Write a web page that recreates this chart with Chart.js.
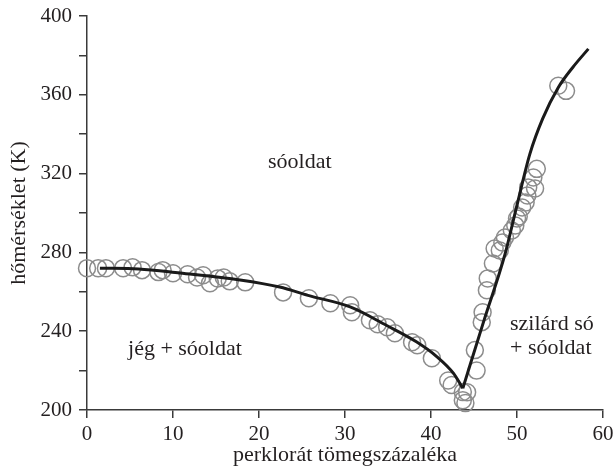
<!DOCTYPE html>
<html>
<head>
<meta charset="utf-8">
<script src="https://cdn.jsdelivr.net/npm/chart.js@4.4.1/dist/chart.umd.min.js"></script>
<style>
  html, body { margin: 0; padding: 0; background: #fff; }
  #chart { display: block; }
</style>
</head>
<body>
<canvas id="chart" width="615" height="469"></canvas>
<script>
// measured points (perchlorate wt% / temperature K)
const obsPct = [0, 1.3, 2.2, 4.2, 5.3, 6.4, 8.3, 8.8, 10.0, 11.7, 12.8, 13.5, 14.3, 15.2, 15.9, 16.6, 18.4,
  22.8, 25.8, 28.3, 30.6, 30.8, 32.9, 33.8, 34.9, 35.8, 37.8, 38.4, 40.1, 42.0, 42.4, 43.7, 43.7, 44.0, 44.2,
  45.3, 45.1, 45.9, 46.0, 46.5, 46.6, 47.2, 47.4, 48.0, 48.3, 48.6, 49.4, 49.8, 50.0, 50.2, 50.6, 51.0, 51.2,
  51.3, 52.1, 51.9, 52.3, 54.8, 55.7];
const obsTemp = [272, 272, 272, 272, 272.4, 271, 270, 271, 269.4, 268.9, 267.3, 268.4, 264.3, 266.8, 267.3, 265.3, 264.8,
  259.7, 256.7, 254.2, 253.2, 249.6, 245.6, 243.5, 242, 239, 234.4, 232.9, 226.3, 215, 212.7, 209.1, 205, 203.5, 209,
  220, 230.4, 244.6, 249.6, 260.8, 266.8, 274.4, 282, 281, 285, 287.6, 291.1, 293.7, 297.2, 298.2, 302.8, 305.3, 308.9,
  313, 312.4, 318, 322.4, 364.6, 362];

// fitted curves: ice branch and salt branch
const leftPct = [1.5, 6, 10.8, 17.8, 22.4, 25.7, 30.6, 34.8, 38.3, 40.7, 42.6, 43.7];
const leftTemp = [272, 271.6, 269.5, 266, 262.4, 258.2, 252.3, 243, 234.6, 227, 218.7, 211];
const rightPct = [43.7, 46.2, 48.6, 50.0, 51.5, 53.0, 54.8, 56.5, 58.3];
const rightTemp = [211, 246, 279, 304, 330, 348, 363.7, 374, 383.3];

const xTicks = [0, 10, 20, 30, 40, 50, 60];
const yTickLabels = [200, 240, 280, 320, 360, 400];

const regionText = ['sóoldat', 'jég + sóoldat', 'szilárd só', '+ sóoldat'];
const regionPct = [21.05, 4.77, 49.19, 49.19];
const regionTemp = [323, 227.8, 240.5, 228.4];

const FONT = "'Liberation Serif', 'Times New Roman', serif";
const INK = '#231f20';
const AXIS = '#3a3a3a';

function toXY(xs, ys) {
  return xs.map((x, i) => ({ x: x, y: ys[i] }));
}

// keep tick labels from pushing the plot area inwards
function noLabelPadding(s) {
  s.paddingTop = 0;
  s.paddingBottom = 0;
  s.paddingLeft = 0;
  s.paddingRight = 0;
}

const regionLabels = {
  id: 'regionLabels',
  afterDatasetsDraw(chart) {
    const ctx = chart.ctx;
    const sx = chart.scales.x, sy = chart.scales.y;
    ctx.save();
    ctx.font = '22px ' + FONT;
    ctx.fillStyle = INK;
    ctx.textAlign = 'left';
    ctx.textBaseline = 'alphabetic';
    regionText.forEach((t, i) => {
      ctx.fillText(t, sx.getPixelForValue(regionPct[i]), sy.getPixelForValue(regionTemp[i]));
    });
    ctx.restore();
  }
};

new Chart(document.getElementById('chart'), {
  type: 'scatter',
  data: {
    datasets: [
      {
        data: toXY(leftPct, leftTemp),
        showLine: true,
        borderColor: '#1a1a1a',
        borderWidth: 3,
        pointRadius: 0,
        cubicInterpolationMode: 'monotone',
        order: 0
      },
      {
        data: toXY(rightPct, rightTemp),
        showLine: true,
        borderColor: '#1a1a1a',
        borderWidth: 3,
        pointRadius: 0,
        cubicInterpolationMode: 'monotone',
        order: 0
      },
      {
        data: toXY(obsPct, obsTemp),
        showLine: false,
        clip: false,
        pointRadius: 8.5,
        pointBorderWidth: 1.5,
        pointBorderColor: '#8c8c8c',
        pointBackgroundColor: 'rgba(0,0,0,0)',
        order: 1
      }
    ]
  },
  options: {
    responsive: false,
    animation: false,
    devicePixelRatio: 1,
    layout: { padding: { left: 0, right: 12, top: 16, bottom: 0 } },
    plugins: {
      legend: { display: false },
      tooltip: { enabled: false }
    },
    scales: {
      x: {
        type: 'linear',
        min: 0,
        max: 60,
        afterFit: (s) => { s.height = 59; noLabelPadding(s); },
        afterBuildTicks: (s) => { s.ticks = xTicks.map(v => ({ value: v })); },
        border: { display: true, color: AXIS, width: 1.5 },
        grid: { drawOnChartArea: false, drawTicks: true, tickLength: 8, color: AXIS, lineWidth: 1.5 },
        ticks: { color: INK, padding: 4, font: { family: FONT, size: 21 } },
        title: {
          display: true,
          text: 'perklorát tömegszázaléka',
          color: INK,
          padding: { top: 0, bottom: 1 },
          font: { family: FONT, size: 22 }
        }
      },
      y: {
        type: 'linear',
        min: 200,
        max: 400,
        afterFit: (s) => { s.width = 87; noLabelPadding(s); },
        border: { display: true, color: AXIS, width: 1.5 },
        grid: { drawOnChartArea: false, drawTicks: true, tickLength: 8, color: AXIS, lineWidth: 1.5 },
        ticks: {
          stepSize: 20,
          color: INK,
          padding: 7,
          font: { family: FONT, size: 21 },
          callback: (v) => yTickLabels.includes(v) ? String(v) : ''
        },
        title: {
          display: true,
          text: 'hőmérséklet (K)',
          color: INK,
          padding: { top: 6, bottom: 0 },
          font: { family: FONT, size: 22 }
        }
      }
    }
  },
  plugins: [regionLabels]
});
</script>
</body>
</html>
